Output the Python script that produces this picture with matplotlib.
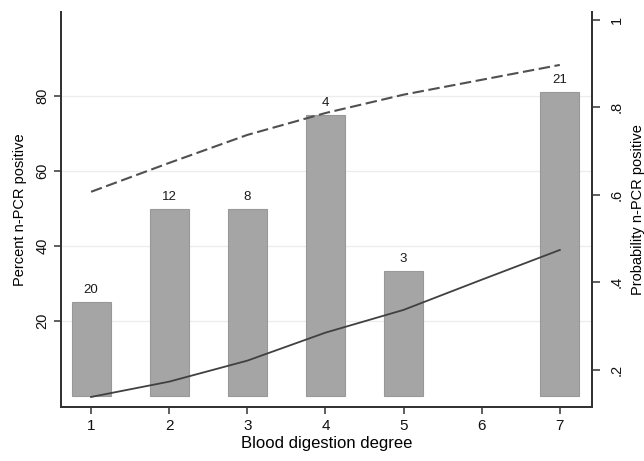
import matplotlib
matplotlib.use("Agg")
import matplotlib.pyplot as plt

# data
degree = [1, 2, 3, 4, 5, 7]
pct_positive = [25.0, 50.0, 50.0, 75.0, 33.3, 81.0]
n_samples = [20, 12, 8, 4, 3, 21]

curve_x = [1, 2, 3, 4, 5, 6, 7]
prob_upper = [0.607, 0.673, 0.737, 0.787, 0.829, 0.863, 0.897]
prob_fit = [0.138, 0.173, 0.221, 0.285, 0.337, 0.406, 0.474]

plt.rcParams["font.family"] = ["Liberation Sans", "DejaVu Sans"]
axis_col = "#333333"

fig = plt.figure(figsize=(6.44, 4.61), dpi=100)
ax = fig.add_axes([0.0947, 0.1171, 0.8243, 0.8569])
ax2 = ax.twinx()

ax.bar(degree, pct_positive, width=0.5, color="#a5a5a5", edgecolor="#989898",
       linewidth=0.8, zorder=2)
for x, h, n in zip(degree, pct_positive, n_samples):
    ax.text(x, h + 1.6, str(n), ha="center", va="bottom", fontsize=9.5,
            color="#1a1a1a")

ax2.plot(curve_x, prob_upper, color="#505050", lw=1.5, ls=(0, (5.5, 2.2)))
ax2.plot(curve_x, prob_fit, color="#404040", lw=1.3)

ax.set_xlim(0.615, 7.41)
ax.set_ylim(-2.9, 102.4)
ax2.set_ylim(0.115, 1.018)

ax.set_yticks([20, 40, 60, 80])
ax.set_xticks(curve_x)
ax2.set_yticks([0.2, 0.4, 0.6, 0.8, 1.0])
ax2.set_yticklabels([".2", ".4", ".6", ".8", "1"])

ax.grid(axis="y", color="#ececec", lw=0.9, zorder=0)
ax.set_axisbelow(True)

for a in (ax, ax2):
    a.spines["top"].set_visible(False)
    for s in ("left", "right", "bottom"):
        a.spines[s].set_color(axis_col)
        a.spines[s].set_linewidth(1.4)
    a.tick_params(colors=axis_col, length=5, width=1.1, labelsize=10.5,
                  labelcolor="#111111")
ax.tick_params(axis="x", labelsize=11)
ax2.tick_params(axis="y", length=6, pad=7)

for lab in ax.get_yticklabels():
    lab.set_rotation(90)
    lab.set_va("center")
for lab in ax2.get_yticklabels():
    lab.set_rotation(90)
    lab.set_va("center")

ax.set_xlabel("Blood digestion degree", fontsize=12, labelpad=2)
ax.set_ylabel("Percent n-PCR positive", fontsize=10.5, labelpad=6)
ax2.set_ylabel("Probability n-PCR positive", fontsize=10.5, labelpad=5)

fig.savefig("out.png", dpi=100)
